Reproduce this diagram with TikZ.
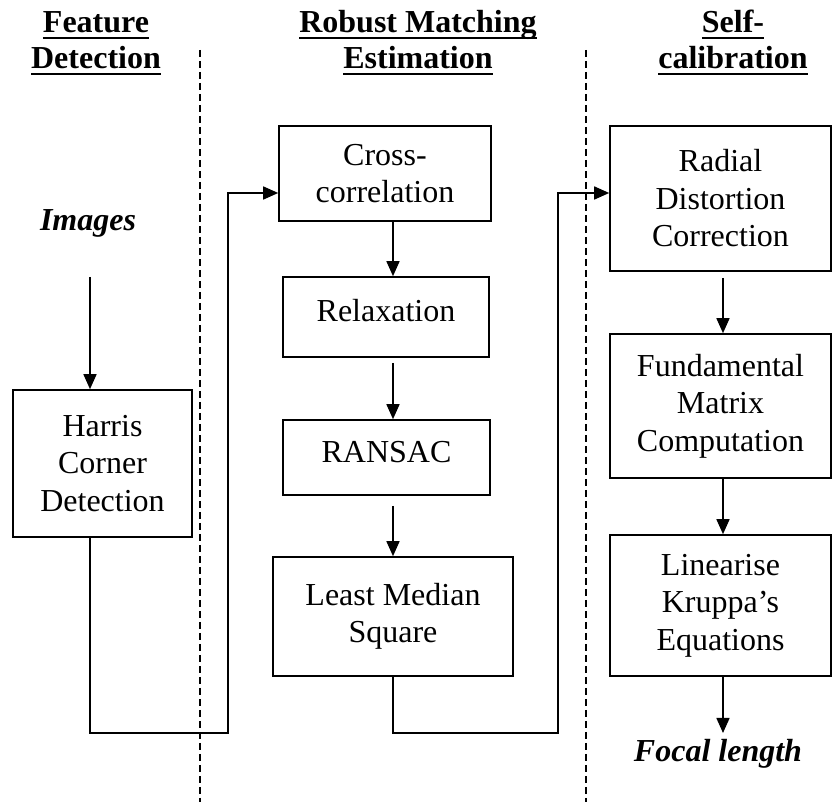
\documentclass[tikz,border=0pt]{standalone}
\usepackage{fontspec}
\setmainfont{Liberation Serif}
\usetikzlibrary{arrows.meta}

% bold heading word with a heavy underline
\newcommand{\headword}[1]{\setbox0\hbox{\bfseries #1}\rlap{\rule[-3pt]{\wd0}{1.1pt}}\box0}

\tikzset{
  stage/.style={draw, line width=0.8pt, align=center, inner sep=0pt,
    font=\fontsize{16pt}{18.75pt}\selectfont},
  heading/.style={anchor=base, inner sep=0pt, font=\fontsize{16pt}{18.75pt}\selectfont},
  terminal/.style={inner sep=0pt, font=\fontsize{16pt}{18.75pt}\selectfont\bfseries\itshape},
  flow/.style={line width=0.8pt, -{Triangle[width=6.5pt, length=7.5pt]}},
  divider/.style={line width=0.7pt, dash pattern=on 3.5pt off 2pt}
}

\begin{document}
\begin{tikzpicture}[x=0.5pt, y=-0.5pt]
    \useasboundingbox (0,0) rectangle (832,802);

    % 1. Headings and column dividers
    \node[heading] (featA)  at (96,33)  {\headword{Feature}};
    \node[heading] (featB)  at (96,69)  {\headword{Detection}};
    \node[heading] (matchA) at (418,33) {\headword{Robust Matching}};
    \node[heading] (matchB) at (418,69) {\headword{Estimation}};
    \node[heading] (calibA) at (733,33) {\headword{Self-}};
    \node[heading] (calibB) at (733,69) {\headword{calibration}};

    \draw[divider] (200,50) -- (200,802);
    \draw[divider] (586,50) -- (586,802);

    % 2. Stages
    \node[terminal] (images) at (88,223) {Images};
    \node[stage, minimum width=89.5pt, minimum height=73.5pt] (harris) at (102.5,463.5) {Harris\\Corner\\Detection};

    \node[stage, minimum width=106pt, minimum height=47.5pt] (cross) at (385,173.5) {Cross-\\correlation};
    \node[stage, minimum width=103pt, minimum height=40pt, text depth=7pt] (relax) at (386,317) {Relaxation};
    \node[stage, minimum width=103.5pt, minimum height=37.5pt, text depth=5.5pt] (ransac) at (386.5,457.5) {RANSAC};
    \node[stage, minimum width=120pt, minimum height=59.5pt] (lms) at (393,616.5) {Least Median\\Square};

    \node[stage, minimum width=110.5pt, minimum height=72.5pt] (radial) at (720.5,198.5) {Radial\\Distortion\\Correction};
    \node[stage, minimum width=110.5pt, minimum height=72pt] (fundam) at (720.5,406) {Fundamental\\Matrix\\Computation};
    \node[stage, minimum width=110.5pt, minimum height=70.5pt] (linear) at (720.5,605.5) {Linearise\\Kruppa's\\Equations};
    \node[terminal] (focal) at (718,754) {Focal length};

    % 3. Routing points
    \coordinate (dropL) at (90,277);   % start of the arrow under Images
    \coordinate (spineM) at (393,0);   % arrow line of the middle column
    \coordinate (spineR) at (723,0);   % arrow line of the right column
    \coordinate (lowL) at (228,733);   % bottom corner of the left loop
    \coordinate (feedL) at (228,193);  % top corner of the left loop
    \coordinate (lowR) at (558,733);   % bottom corner of the right loop
    \coordinate (feedR) at (558,193);  % top corner of the right loop

    % 4. Connectors
    \draw[flow] (dropL) -- (dropL |- harris.north);
    \draw[flow] (harris.south -| dropL) -- (dropL |- lowL) -- (lowL) -- (feedL) -- (feedL -| cross.west);

    \draw[flow] (cross.south -| spineM) -- (relax.north -| spineM);
    \draw[flow] ([yshift=-2.5pt]relax.south -| spineM) -- (ransac.north -| spineM);
    \draw[flow] ([yshift=-5pt]ransac.south -| spineM) -- (lms.north -| spineM);
    \draw[flow] (lms.south -| spineM) -- (spineM |- lowR) -- (lowR) -- (feedR) -- (feedR -| radial.west);

    \draw[flow] ([yshift=-3pt]radial.south -| spineR) -- (fundam.north -| spineR);
    \draw[flow] (fundam.south -| spineR) -- (linear.north -| spineR);
    \draw[flow] (linear.south -| spineR) -- (spineR |- lowR);
\end{tikzpicture}
\end{document}
